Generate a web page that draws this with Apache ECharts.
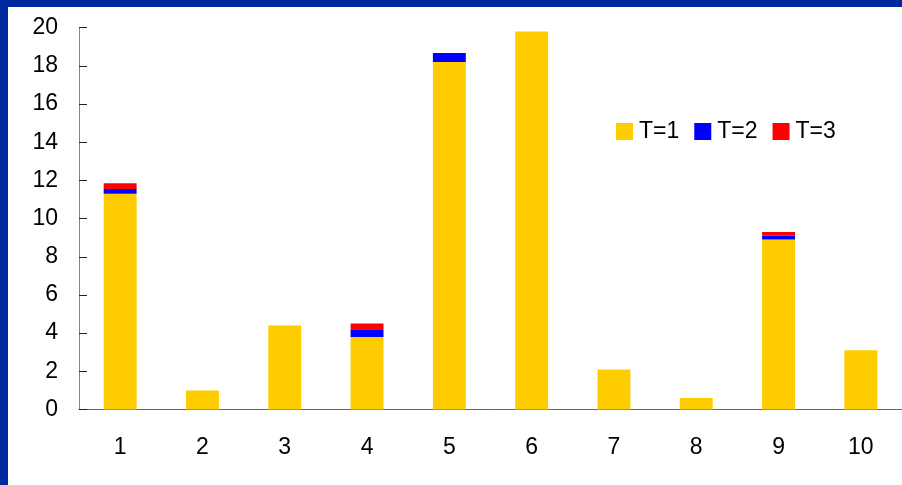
<!DOCTYPE html>
<html>
<head>
<meta charset="utf-8">
<script src="https://cdn.jsdelivr.net/npm/echarts@6/dist/echarts.min.js"></script>
<style>
  html, body { margin: 0; padding: 0; background: #fff; }
  #chart { width: 902px; height: 485px; }
</style>
</head>
<body>
<div id="chart"></div>
<script>
// Categories along the x axis
const categories = ['1', '2', '3', '4', '5', '6', '7', '8', '9', '10'];
// Stacked segments per category
const seriesT1 = [11.3, 1.0, 4.4, 3.8, 18.2, 19.8, 2.1, 0.6, 8.9, 3.1];
const seriesT2 = [0.25, null, null, 0.4, 0.47, null, null, null, 0.2, null];
const seriesT3 = [0.3, null, null, 0.3, null, null, null, null, 0.2, null];
const seriesNames = ['T=1', 'T=2', 'T=3'];
const seriesColors = ['#FFCC00', '#0000FF', '#FF0000'];
// Value axis ticks
const yMin = 0, yMax = 20, yStep = 2;

const FONT = 'Liberation Sans, Arial, sans-serif';
const FONT_SIZE = 23;
const chart = echarts.init(document.getElementById('chart'));

const values = [seriesT1, seriesT2, seriesT3];
chart.setOption({
  animation: false,
  backgroundColor: '#ffffff',
  graphic: [
    { type: 'rect', left: 0, top: 0, shape: { width: 902, height: 7 }, style: { fill: '#0029A0' }, z: 100 },
    { type: 'rect', left: 0, top: 0, shape: { width: 8, height: 485 }, style: { fill: '#0029A0' }, z: 100 }
  ],
  grid: { left: 79, right: 0, top: 27.7, bottom: 75.5 },
  legend: {
    left: 616, top: 120, padding: 0,
    itemWidth: 17, itemHeight: 17, itemGap: 15,
    icon: 'rect',
    textStyle: { fontFamily: FONT, fontSize: FONT_SIZE, color: '#000', padding: [0, 0, 0, 1] },
    data: seriesNames
  },
  xAxis: {
    type: 'category',
    data: categories,
    axisLine: { lineStyle: { color: '#666', width: 1 } },
    axisTick: { inside: true, length: 8, lineStyle: { color: '#666' } },
    axisLabel: { fontFamily: FONT, fontSize: FONT_SIZE, color: '#000', margin: 27 }
  },
  yAxis: {
    type: 'value',
    min: yMin, max: yMax, interval: yStep,
    splitLine: { show: false },
    axisLine: { show: true, lineStyle: { color: '#888', width: 1 } },
    axisTick: { show: true, inside: true, length: 8, lineStyle: { color: '#222' } },
    axisLabel: { fontFamily: FONT, fontSize: FONT_SIZE, color: '#000', margin: 21 }
  },
  series: seriesNames.map((name, i) => ({
    name,
    type: 'bar',
    stack: 'total',
    barWidth: '40%',
    itemStyle: { color: seriesColors[i] },
    data: values[i]
  }))
});
</script>
</body>
</html>
